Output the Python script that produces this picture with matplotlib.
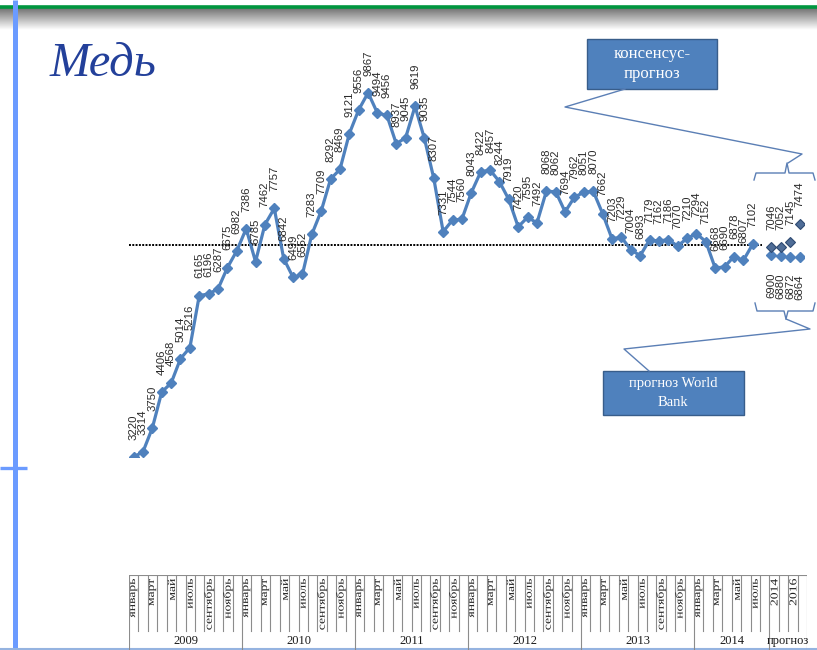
import numpy as np
import matplotlib
matplotlib.use("Agg")
from matplotlib import pyplot as plt
from matplotlib.textpath import TextPath
from matplotlib.patches import PathPatch
from matplotlib.font_manager import FontProperties
from matplotlib.transforms import Affine2D, IdentityTransform

# monthly copper price, jan 2009 .. jul 2014
price_2009 = [3220, 3314, 3750, 4406, 4568, 5014, 5216, 6165, 6196, 6287, 6675, 6982]
price_2010 = [7386, 6785, 7462, 7757, 6842, 6499, 6552, 7283, 7709, 8292, 8469, 9121]
price_2011 = [9556, 9867, 9494, 9456, 8937, 9045, 9619, 9035, 8307, 7331, 7544, 7560]
price_2012 = [8043, 8422, 8457, 8244, 7919, 7420, 7595, 7492, 8068, 8062, 7694, 7962]
price_2013 = [8051, 8070, 7662, 7203, 7229, 7004, 6893, 7179, 7162, 7186, 7070, 7210]
price_2014 = [7294, 7152, 6668, 6690, 6878, 6807, 7102]

forecast_years = ['2014', '2015', '2016', '2017']
world_bank = [6900, 6880, 6872, 6864]
consensus = [7046, 7052, 7145, 7474]
dotted_level = 7090

months = ['январь', 'февраль', 'март', 'апрель', 'май', 'июнь', 'июль',
          'август', 'сентябрь', 'октябрь', 'ноябрь', 'декабрь']
years = ['2009', '2010', '2011', '2012', '2013', '2014']

prices = price_2009 + price_2010 + price_2011 + price_2012 + price_2013 + price_2014

# categories: all months, an empty august 2014, then the forecast years
cat_labels = []
groups = []
for y in years:
    n = 8 if y == '2014' else 12
    groups.append((y, len(cat_labels), len(cat_labels) + n))
    cat_labels += months[:n]
groups.append(('прогноз', len(cat_labels), len(cat_labels) + len(forecast_years)))
cat_labels += forecast_years
n_cat = len(cat_labels)
fc_x = np.arange(n_cat - len(forecast_years), n_cat)

W, H = 817, 650
fig = plt.figure(figsize=(W / 100, H / 100), dpi=100)
fig.patch.set_facecolor('white')


def stretched_label(fig, text, cx, top, size_px, stretch):
    # vertical text (bottom to top), drawn longer than it is wide, like the excel table
    tp = TextPath((0, 0), text, size=size_px, prop=FontProperties(family='Liberation Serif'))
    path = Affine2D().scale(stretch, 1.0).rotate_deg(90).transform_path(tp)
    ext = path.get_extents()
    dx = cx - (ext.x0 + ext.x1) / 2
    dy = (H - top) - ext.y1
    path = Affine2D().translate(dx, dy).transform_path(path)
    fig.add_artist(PathPatch(path, facecolor='#222222', edgecolor='none',
                             transform=IdentityTransform(), zorder=3))


# slide decoration in pixel coords
deco = fig.add_axes([0, 0, 1, 1], zorder=0)
deco.set_xlim(0, W)
deco.set_ylim(H, 0)
deco.axis('off')
grad = np.linspace(0.45, 1.0, 40).reshape(-1, 1)
deco.imshow(grad, cmap='gray', vmin=0, vmax=1, extent=[0, W, 30, 8], aspect='auto')
deco.plot([0, W], [6.5, 6.5], color='#00963F', lw=2.6, solid_capstyle='butt')
deco.plot([14.8, 14.8], [0, H], color='#6B9BFF', lw=3.6, solid_capstyle='butt')
deco.plot([0, 27], [468, 468], color='#6B9BFF', lw=2.4, solid_capstyle='butt')
deco.plot([0, W], [649, 649], color='#95B3E0', lw=1.5)
deco.text(50, 76, 'Медь', family='Liberation Serif', style='italic', fontsize=35,
          color='#23409A', va='baseline', ha='left')

# callout boxes and braces
box_kw = dict(facecolor='#4F81BD', edgecolor='#385D8A', lw=1)
line_c = '#5B7FB5'
deco.add_patch(plt.Rectangle((587, 39), 130, 50, **box_kw))
deco.text(652, 64, 'консенсус-\nпрогноз', ha='center', va='center', color='white',
          family='Liberation Serif', fontsize=12, linespacing=1.4)
deco.plot([625, 565, 802, 788], [89, 107, 154, 163], color=line_c, lw=1)
deco.add_patch(plt.Rectangle((603, 371), 141, 44, **box_kw))
deco.text(673, 393, 'прогноз World\nBank', ha='center', va='center', color='white',
          family='Liberation Serif', fontsize=10.5, linespacing=1.5)
deco.plot([786, 810, 624, 649], [319, 329, 349, 371], color=line_c, lw=1)
deco.plot([754, 756, 785, 787, 789, 813, 815], [180, 173, 173, 163, 173, 173, 180],
          color=line_c, lw=1)
deco.plot([755, 757, 784, 786, 788, 813, 815], [303, 311, 311, 319, 311, 311, 303],
          color=line_c, lw=1)

# main chart
x0, x1, ybot, ytop = 128.9, 804.3, 457, 20
ppu = 0.0548
ax = fig.add_axes([x0 / W, (H - ybot) / H, (x1 - x0) / W, (ybot - ytop) / H], zorder=2)
ax.patch.set_alpha(0)
ax.set_xlim(-0.5, n_cat - 0.5)
ax.set_ylim(3220, 3220 + (ybot - ytop) / ppu)
ax.axis('off')

blue = '#4F81BD'
xm = np.arange(len(prices))
ax.plot([-0.5, len(prices)], [dotted_level, dotted_level], color='black', lw=1.4,
        linestyle=(0, (1, 0.7)))
ax.plot(xm, prices, color=blue, lw=2.3, marker='D', ms=5.5, mec=blue, mfc=blue)
ax.plot(fc_x, world_bank, ls='none', marker='D', ms=5.5, color=blue)
ax.plot(fc_x, consensus, ls='none', marker='D', ms=5.5, mfc='#4F6D97', mec='#2E4A72', mew=0.8)

lab_kw = dict(textcoords='offset points', rotation=90, ha='center', va='center',
              fontsize=8.2, family='Liberation Sans', color='#2A2A2A', annotation_clip=False)
for x, v in zip(xm, prices):
    ax.annotate(str(v), (x, v), xytext=(0, 21.5), **lab_kw)
for x, v in zip(fc_x, consensus):
    ax.annotate(str(v), (x, v), xytext=(0, 21.5), **lab_kw)
for x, v in zip(fc_x, world_bank):
    ax.annotate(str(v), (x, v), xytext=(0, -21.5), **lab_kw)

# category table under the chart
t0, t1, ttop, tbot = 129, 807, 575, 650
cw = (t1 - t0) / n_cat
tab = fig.add_axes([t0 / W, (H - tbot) / H, (t1 - t0) / W, (tbot - ttop) / H], zorder=1)
tab.set_xlim(0, n_cat)
tab.set_ylim(tbot - ttop, 0)
tab.axis('off')
grid_c = '#8C8C8C'
tab.plot([0, n_cat], [0, 0], color=grid_c, lw=0.8)
edges = {g[1] for g in groups} | {n_cat}
for i in range(n_cat + 1):
    tab.plot([i, i], [0, 75 if i in edges else 56], color=grid_c, lw=0.8)
for i, lab in enumerate(cat_labels):
    if i % 2 == 0:
        stretched_label(fig, lab, t0 + (i + 0.5) * cw, ttop + 4, 10.5, 1.3)
for name, a, b in groups:
    tab.text((a + b) / 2, 66, name, ha='center', va='center',
             family='Liberation Serif', fontsize=9, color='#1A1A1A')

fig.savefig('out.png', dpi=100)
